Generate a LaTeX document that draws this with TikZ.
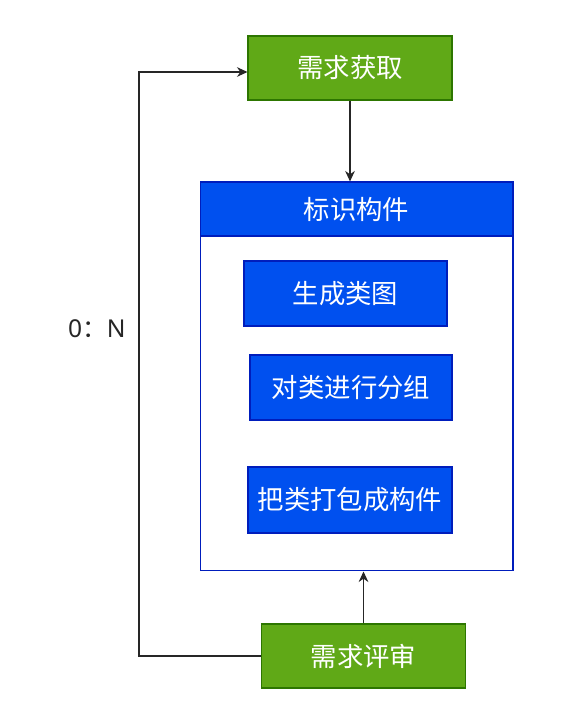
\documentclass[tikz,border=0pt]{standalone}
\usepackage{fontspec}
\newfontfamily\cjk{Noto Sans CJK SC}
\newfontfamily\latin{Noto Sans}
\usetikzlibrary{arrows.meta}
\definecolor{stepgreen}{HTML}{60A917}
\definecolor{stepgreenline}{HTML}{2D7600}
\definecolor{stepblue}{HTML}{0050EF}
\definecolor{stepblueline}{HTML}{001DBC}
\tikzset{>={Stealth[length=6pt,width=5.5pt]},
  greenbox/.style={draw=stepgreenline,fill=stepgreen,text=white,line width=0.6pt,
    minimum width=4.08cm,minimum height=1.28cm,font=\cjk\fontsize{15}{18}\selectfont},
  bluebox/.style={draw=stepblueline,fill=stepblue,text=white,line width=0.6pt,
    minimum width=4.06cm,minimum height=1.3cm,font=\cjk\fontsize{15}{18}\selectfont},
  link/.style={->,line width=0.7pt,black!85}}

\begin{document}
\begin{tikzpicture}[x=0.02cm,y=-0.02cm]
    \useasboundingbox (0,0) rectangle (583,719);
    % top and bottom steps
    \node[greenbox] (getreq) at (350,68) {需求获取};
    \node[greenbox] (review) at (363.5,656) {需求评审};
    % component frame
    \node[draw=stepblueline,line width=0.6pt,minimum width=6.26cm,minimum height=7.78cm] (comp) at (356.5,376.5) {};
    \node[bluebox,minimum width=6.26cm,minimum height=1.08cm] (comphead) at (356.5,209) {标识构件};
    \node[bluebox] (classdiag) at (345.5,293.5) {生成类图};
    \node[bluebox,minimum width=4.04cm] (grouping) at (351,387.5) {对类进行分组};
    \node[bluebox,minimum width=4.08cm,minimum height=1.32cm] (packing) at (350,500) {把类打包成构件};
    % links
    \draw[link] (getreq.south) -- (getreq.south |- comphead.north);
    \draw[link] (review.north) -- (review.north |- comp.south);
    \coordinate (loopin) at (getreq.west |- 0,72);
    \draw[link] (review.west) -- (139,656) -- (139,72) node[pos=0.56,left=4pt,font=\latin\fontsize{14}{16}\selectfont] (ratio) {0{\cjk ：}N} -- (loopin);
\end{tikzpicture}
\end{document}
